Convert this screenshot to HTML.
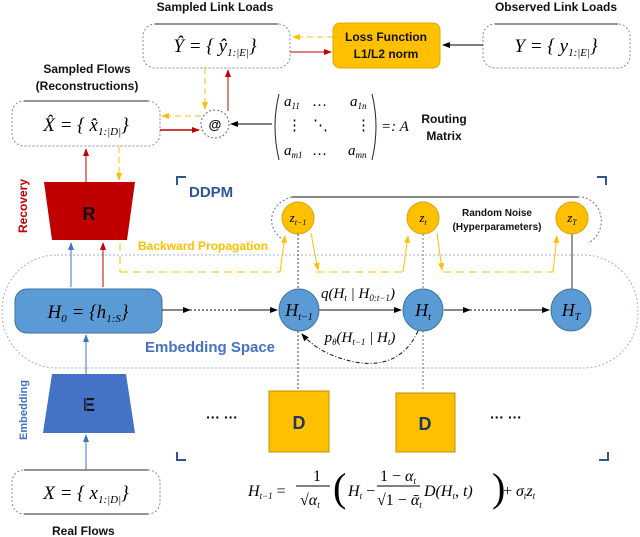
<!DOCTYPE html>
<html><head><meta charset="utf-8"><style>
html,body{margin:0;padding:0;background:#fff}
svg{display:block}
.s{font-family:"Liberation Sans",sans-serif;font-weight:bold}
.m{font-family:"Liberation Serif",serif;font-style:italic}
</style></head><body>
<svg width="640" height="537" viewBox="0 0 640 537" xmlns="http://www.w3.org/2000/svg">
<defs>
<marker id="ak" markerWidth="8" markerHeight="8" refX="7" refY="4" orient="auto" markerUnits="userSpaceOnUse"><path d="M0,1 L8,4 L0,7 z" fill="#000"/></marker>
<marker id="ar" markerWidth="8" markerHeight="8" refX="7" refY="4" orient="auto" markerUnits="userSpaceOnUse"><path d="M0,1 L8,4 L0,7 z" fill="#C00000"/></marker>
<marker id="ay" markerWidth="8" markerHeight="8" refX="7" refY="4" orient="auto" markerUnits="userSpaceOnUse"><path d="M0,1 L8,4 L0,7 z" fill="#FFC000"/></marker>
<marker id="ab" markerWidth="8" markerHeight="8" refX="7" refY="4" orient="auto" markerUnits="userSpaceOnUse"><path d="M0,1 L8,4 L0,7 z" fill="#4472C4"/></marker>
</defs>

<!-- embedding region -->
<rect x="2" y="255" width="636" height="113" rx="55" fill="none" stroke="#9DB3D6" stroke-dasharray="2,2"/>

<!-- Top texts -->
<text class="s" x="215" y="11" font-size="12" text-anchor="middle" fill="#111">Sampled Link Loads</text>
<text class="s" x="556" y="11" font-size="12" text-anchor="middle" fill="#111">Observed Link Loads</text>
<text class="s" x="87" y="73" font-size="12" text-anchor="middle" fill="#111">Sampled Flows</text>
<text class="s" x="87" y="90" font-size="12" text-anchor="middle" fill="#111">(Reconstructions)</text>
<text class="s" x="22" y="535" font-size="12" fill="#111" dx="0"><tspan x="52">Real Flows</tspan></text>

<!-- Boxes -->
<g fill="none" stroke="#888" stroke-dasharray="2,2">
<rect x="143" y="24" width="147" height="44" rx="12"/>
<rect x="483" y="24" width="147" height="44" rx="12"/>
<rect x="12" y="101" width="148" height="45" rx="12"/>
<rect x="12" y="470" width="148" height="44" rx="12"/>
</g>
<g stroke="#555" stroke-width="1.2">
<line x1="155" y1="24" x2="278" y2="24"/><line x1="495" y1="24" x2="618" y2="24"/>
<line x1="24" y1="101" x2="148" y2="101"/><line x1="24" y1="470" x2="148" y2="470"/>
<line x1="24" y1="514" x2="148" y2="514"/>
</g>
<text class="m" x="215" y="52" font-size="19" text-anchor="middle">Ŷ = { ŷ<tspan font-size="11" dy="4">1:|E|</tspan><tspan dy="-4">}</tspan></text>
<text class="m" x="556" y="52" font-size="19" text-anchor="middle">Y = { y<tspan font-size="11" dy="4">1:|E|</tspan><tspan dy="-4">}</tspan></text>
<text class="m" x="86" y="131" font-size="19" text-anchor="middle">X̂ = { x̂<tspan font-size="11" dy="4">1:|D|</tspan><tspan dy="-4">}</tspan></text>
<text class="m" x="86" y="499" font-size="19" text-anchor="middle">X = { x<tspan font-size="11" dy="4">1:|D|</tspan><tspan dy="-4">}</tspan></text>

<!-- Loss -->
<rect x="333" y="23" width="107" height="45" rx="7" fill="#FFC000" stroke="#E0A800"/>
<text class="s" x="386" y="41" font-size="12" text-anchor="middle" fill="#111">Loss Function</text>
<text class="s" x="386" y="58" font-size="12" text-anchor="middle" fill="#111">L1/L2 norm</text>
<line x1="483" y1="45" x2="443" y2="45" stroke="#000" marker-end="url(#ak)"/>
<line x1="333" y1="37" x2="293" y2="37" stroke="#FFC000" stroke-dasharray="6,4" marker-end="url(#ay)"/>
<line x1="290" y1="52" x2="331" y2="52" stroke="#C00000" marker-end="url(#ar)"/>

<!-- @ -->
<circle cx="215" cy="124" r="14" fill="#fff" stroke="#666" stroke-dasharray="2,2"/>
<text class="s" x="215" y="129" font-size="13" text-anchor="middle">@</text>
<line x1="160" y1="130" x2="199" y2="130" stroke="#C00000" stroke-width="1.5" marker-end="url(#ar)"/>
<line x1="201" y1="116" x2="162" y2="116" stroke="#FFC000" stroke-dasharray="6,4" marker-end="url(#ay)"/>
<line x1="228" y1="111" x2="228" y2="70" stroke="#C00000" marker-end="url(#ar)"/>
<line x1="205" y1="68" x2="205" y2="109" stroke="#FFC000" stroke-dasharray="6,4" marker-end="url(#ay)"/>
<line x1="272" y1="124" x2="231" y2="124" stroke="#000" marker-end="url(#ak)"/>

<!-- Matrix -->
<path d="M279,94 Q271,126 279,160" fill="none" stroke="#222"/>
<path d="M372,94 Q380,126 372,160" fill="none" stroke="#222"/>
<g class="m" font-size="15">
<text x="284" y="106">a<tspan font-size="9" dy="3">11</tspan></text>
<text x="312" y="106" font-style="normal">…</text>
<text x="350" y="106">a<tspan font-size="9" dy="3">1n</tspan></text>
<text x="287" y="130" font-style="normal">⋮</text><text x="313" y="130" font-style="normal">⋱</text><text x="356" y="130" font-style="normal">⋮</text>
<text x="284" y="155">a<tspan font-size="9" dy="3">m1</tspan></text>
<text x="312" y="155" font-style="normal">…</text>
<text x="348" y="155">a<tspan font-size="9" dy="3">mn</tspan></text>
<text x="381" y="131">=: A</text>
</g>
<text class="s" x="444" y="123" font-size="12" text-anchor="middle" fill="#111">Routing</text>
<text class="s" x="444" y="140" font-size="12" text-anchor="middle" fill="#111">Matrix</text>

<!-- R -->
<path d="M44,182 L135,182 L127,240 L52,240 Z" fill="#C00000"/>
<text class="s" x="89" y="220" font-size="18" text-anchor="middle" fill="#111">R</text>
<text class="s" x="27" y="206" font-size="12" fill="#C00000" text-anchor="middle" transform="rotate(-90 27 206)">Recovery</text>
<line x1="86" y1="182" x2="86" y2="149" stroke="#C00000" marker-end="url(#ar)"/>
<line x1="119" y1="147" x2="119" y2="180" stroke="#FFC000" stroke-dasharray="6,4" marker-end="url(#ay)"/>

<!-- DDPM brackets -->
<path d="M177,185 V177 H186" fill="none" stroke="#2F5597" stroke-width="2"/>
<path d="M597,177 H606 V185" fill="none" stroke="#2F5597" stroke-width="2"/>
<path d="M177,452 V460 H186" fill="none" stroke="#2F5597" stroke-width="2"/>
<path d="M599,460 H608 V452" fill="none" stroke="#2F5597" stroke-width="2"/>
<text class="s" x="189" y="197" font-size="15" fill="#2F5597">DDPM</text>

<!-- noise -->
<line x1="292" y1="197" x2="578" y2="197" stroke="#111"/>
<path d="M292,197 A28,24 0 0 0 284,240" fill="none" stroke="#777" stroke-dasharray="2,2"/>
<path d="M578,197 A22,24 0 0 1 588,243" fill="none" stroke="#777" stroke-dasharray="2,2"/>
<circle cx="298" cy="218" r="16" fill="#FFC000" stroke="#D9A400"/>
<circle cx="423" cy="218" r="16" fill="#FFC000" stroke="#D9A400"/>
<circle cx="572" cy="218" r="16" fill="#FFC000" stroke="#D9A400"/>
<text class="m" x="298" y="222" font-size="13" text-anchor="middle">z<tspan font-size="8" dy="3">t−1</tspan></text>
<text class="m" x="423" y="222" font-size="13" text-anchor="middle">z<tspan font-size="8" dy="3">t</tspan></text>
<text class="m" x="572" y="222" font-size="13" text-anchor="middle">z<tspan font-size="8" dy="3">T</tspan></text>
<text class="s" x="497" y="216" font-size="10" text-anchor="middle" fill="#111">Random Noise</text>
<text class="s" x="497" y="230" font-size="10" text-anchor="middle" fill="#111">(Hyperparameters)</text>
<line x1="298" y1="234" x2="298" y2="289" stroke="#444" stroke-dasharray="2,2"/>
<line x1="423" y1="234" x2="423" y2="289" stroke="#777" stroke-dasharray="2,2"/>
<line x1="572" y1="234" x2="572" y2="289" stroke="#777" stroke-width="1.5"/>
<line x1="298" y1="331" x2="298" y2="391" stroke="#444" stroke-dasharray="2,2"/>
<line x1="423" y1="331" x2="423" y2="391" stroke="#777" stroke-dasharray="2,2"/>

<!-- backward propagation -->
<text class="s" x="138" y="250" font-size="12" fill="#FFC000">Backward Propagation</text>
<g fill="none" stroke="#FFC000" stroke-dasharray="8,5">
<line x1="120" y1="243" x2="120" y2="272"/>
<path d="M120,272 H280"/>
<path d="M316,272 H403"/>
<path d="M443,272 H553"/>
</g>
<g fill="none" stroke="#FFC000">
<path d="M280,272 L285,236" marker-end="url(#ay)"/>
<path d="M311,233 L318,270" marker-end="url(#ay)"/>
<path d="M403,272 L408,236" marker-end="url(#ay)"/>
<path d="M437,233 L442,270" marker-end="url(#ay)"/>
<path d="M553,272 L557,236" marker-end="url(#ay)"/>
</g>
<line x1="71" y1="287" x2="71" y2="243" stroke="#4472C4" marker-end="url(#ab)"/>
<line x1="103" y1="287" x2="103" y2="243" stroke="#C00000" marker-end="url(#ar)"/>

<!-- H0 -->
<rect x="15" y="289" width="147" height="44" rx="12" fill="#5B9BD5" stroke="#41719C"/>
<text class="m" x="88" y="318" font-size="19" text-anchor="middle">H<tspan font-size="11" dy="4">0</tspan><tspan dy="-4"> = {h</tspan><tspan font-size="11" dy="4">1:S</tspan><tspan dy="-4">}</tspan></text>
<g stroke="#111">
<line x1="162" y1="310" x2="190" y2="310" marker-end="url(#ak)"/>
<line x1="190" y1="310" x2="240" y2="310" stroke-dasharray="2,2"/>
<line x1="240" y1="310" x2="277" y2="310" marker-end="url(#ak)"/>
<line x1="319" y1="310" x2="401" y2="310" marker-end="url(#ak)"/>
<line x1="444" y1="310" x2="470" y2="310" marker-end="url(#ak)"/>
<line x1="470" y1="310" x2="520" y2="310" stroke-dasharray="2,2"/>
<line x1="520" y1="310" x2="549" y2="310" marker-end="url(#ak)"/>
</g>
<ellipse cx="299" cy="310" rx="20" ry="21" fill="#5B9BD5" stroke="#41719C"/>
<ellipse cx="423" cy="310" rx="20" ry="21" fill="#5B9BD5" stroke="#41719C"/>
<ellipse cx="571" cy="310" rx="20" ry="21" fill="#5B9BD5" stroke="#41719C"/>
<text class="m" x="299" y="316" font-size="18" text-anchor="middle">H<tspan font-size="10" dy="4">t−1</tspan></text>
<text class="m" x="423" y="316" font-size="18" text-anchor="middle">H<tspan font-size="10" dy="4">t</tspan></text>
<text class="m" x="571" y="316" font-size="18" text-anchor="middle">H<tspan font-size="10" dy="4">T</tspan></text>
<text class="m" x="358" y="298" font-size="15" text-anchor="middle">q(H<tspan font-size="9" dy="3">t</tspan><tspan dy="-3"> | H</tspan><tspan font-size="9" dy="3">0:t−1</tspan><tspan dy="-3">)</tspan></text>
<text class="m" x="360" y="342" font-size="15" text-anchor="middle">p<tspan font-size="9" dy="3">θ</tspan><tspan dy="-3">(H</tspan><tspan font-size="9" dy="3">t−1</tspan><tspan dy="-3"> | H</tspan><tspan font-size="9" dy="3">t</tspan><tspan dy="-3">)</tspan></text>
<path d="M418,331 Q400,370 355,362 Q320,355 302,334" fill="none" stroke="#111" stroke-dasharray="4,2,1,2" marker-end="url(#ak)"/>
<text class="s" x="145" y="352" font-size="15" fill="#4472C4" font-weight="normal" style="font-weight:600">Embedding Space</text>

<!-- E -->
<path d="M52,374 L126,374 L135,433 L43,433 Z" fill="#4472C4"/>
<text class="s" x="89" y="411" font-size="18" text-anchor="middle" fill="#111">E</text>
<text class="s" x="27" y="410" font-size="11" fill="#4472C4" text-anchor="middle" transform="rotate(-90 27 410)">Embedding</text>
<line x1="86" y1="433" x2="86" y2="335" stroke="#4472C4" marker-end="url(#ab)"/>
<line x1="86" y1="470" x2="86" y2="435" stroke="#4472C4" marker-end="url(#ab)"/>

<!-- D -->
<rect x="269" y="391" width="60" height="61" fill="#FFC000" stroke="#BF9000"/>
<rect x="396" y="393" width="59" height="59" fill="#FFC000" stroke="#BF9000"/>
<text class="s" x="299" y="429" font-size="18" text-anchor="middle" fill="#1F3864">D</text>
<text class="s" x="425" y="430" font-size="18" text-anchor="middle" fill="#1F3864">D</text>
<text class="s" x="222" y="422" font-size="14" text-anchor="middle">··· ···</text>
<text class="s" x="506" y="422" font-size="14" text-anchor="middle">··· ···</text>

<!-- formula -->
<g class="m" font-size="16">
<text x="248" y="496">H<tspan font-size="9" dy="3">t−1</tspan><tspan dy="-3" font-style="normal"> =</tspan></text>
<text x="313" y="481" font-style="normal">1</text>
<line x1="296" y1="486" x2="330" y2="486" stroke="#000"/>
<text x="300" y="505"><tspan font-style="normal">√</tspan>α<tspan font-size="9" dy="3">t</tspan></text>
<text x="333" y="501" font-size="40" font-style="normal" font-weight="100">(</text>
<text x="348" y="496">H<tspan font-size="9" dy="3">t</tspan><tspan dy="-3" font-style="normal"> −</tspan></text>
<text x="380" y="481"><tspan font-style="normal">1 − </tspan>α<tspan font-size="9" dy="3">t</tspan></text>
<line x1="377" y1="486" x2="420" y2="486" stroke="#000"/>
<text x="377" y="505"><tspan font-style="normal">√1 − </tspan>ᾱ<tspan font-size="9" dy="3">t</tspan></text>
<text x="424" y="496">D(H<tspan font-size="9" dy="3">t</tspan><tspan dy="-3">, t)</tspan></text>
<text x="492" y="501" font-size="40" font-style="normal" font-weight="100">)</text>
<text x="503" y="496"><tspan font-style="normal">+</tspan> σ<tspan font-size="9" dy="3">t</tspan><tspan dy="-3">z</tspan><tspan font-size="9" dy="3">t</tspan></text>
</g>
</svg>
</body></html>
